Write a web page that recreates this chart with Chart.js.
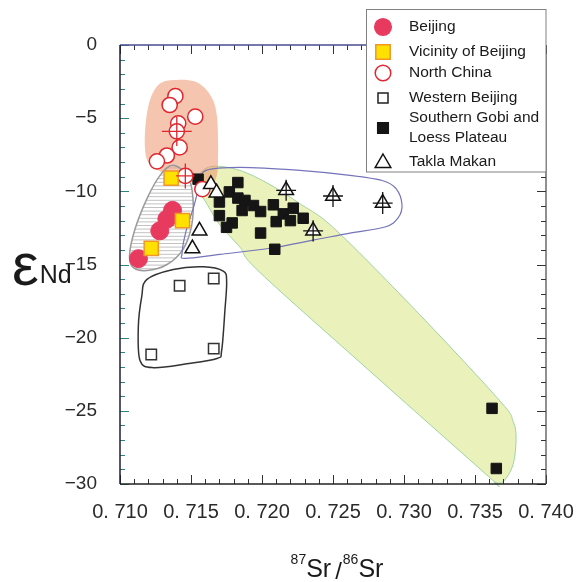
<!DOCTYPE html>
<html lang="en">
<head>
<meta charset="UTF-8" />
<title>87Sr/86Sr vs eNd</title>
<script src="https://cdn.jsdelivr.net/npm/chart.js"></script>
<style>
  html, body { margin: 0; padding: 0; background: #fff; }
  #srnd { display: block; }
</style>
</head>
<body>
<canvas id="srnd" width="577" height="582"></canvas>
<script>
// values
const beijingX = [0.7137, 0.7133, 0.7128, 0.7113];
const beijingY = [-11.3, -11.9, -12.7, -14.6];

const vicinityX = [0.7136, 0.7144, 0.7122];
const vicinityY = [-9.1, -12.0, -13.9];

const northChinaX = [0.7139, 0.7135, 0.7153, 0.7141, 0.7140, 0.7142, 0.7133, 0.7126, 0.7146, 0.7158];
const northChinaY = [-3.5, -4.1, -4.9, -5.35, -5.9, -7.0, -7.55, -7.95, -8.95, -9.85];
const northChinaErrX = [0, 0, 0, 0, 0.00105, 0, 0, 0, 0.00065, 0];
const northChinaErrY = [0, 0, 0, 0, 1.0, 0, 0, 0, 0.85, 0];

const westernX = [0.7142, 0.7166, 0.7122, 0.7166];
const westernY = [-16.45, -15.96, -21.15, -20.75];

const gobiX = [0.7155, 0.7183, 0.7177, 0.7170, 0.7183, 0.7188, 0.7186, 0.7194, 0.7199, 0.7208, 0.7170,
  0.7179, 0.7175, 0.7199, 0.7210, 0.7215, 0.7222, 0.7220, 0.7229, 0.7209, 0.7362, 0.7365];
const gobiY = [-9.17, -9.40, -10.04, -10.73, -10.46, -10.62, -11.31, -10.97, -11.38, -10.92, -11.66,
  -12.16, -12.46, -12.85, -12.07, -11.54, -11.15, -12.00, -11.84, -13.96, -24.83, -28.94];

const taklaX = [0.7164, 0.7168, 0.7156, 0.7151, 0.7217, 0.7250, 0.7285, 0.7236];
const taklaY = [-9.52, -10.09, -12.70, -13.91, -9.93, -10.32, -10.80, -12.70];
const taklaErrX = [0, 0, 0, 0, 0.0007, 0.0007, 0.0007, 0.0007];
const taklaErrY = [0, 0, 0, 0, 0.72, 0.75, 0.75, 0.72];

// field envelopes drawn round each group, [87Sr/86Sr, eNd]
const northChinaField = [[0.71373, -2.4], [0.71528, -2.5], [0.71634, -3.4], [0.71683, -4.9], [0.71690, -8.09],
  [0.71669, -9.26], [0.71606, -9.68], [0.71493, -9.33], [0.71317, -8.78], [0.71225, -8.29], [0.71183, -7.60],
  [0.71176, -6.01], [0.71204, -4.0], [0.71268, -2.75]];
const beijingField = [[0.71373, -8.22], [0.71479, -8.98], [0.71514, -10.50], [0.71504, -12.37], [0.71444, -13.96],
  [0.71331, -15.00], [0.71190, -15.41], [0.71092, -15.20], [0.71067, -14.37], [0.71106, -12.58], [0.71190, -10.50],
  [0.71282, -8.91]];
const gobiField = [[0.71563, -8.78], [0.71655, -8.29], [0.71845, -8.57], [0.72056, -9.54], [0.72268, -10.85],
  [0.72521, -12.65], [0.73113, -18.45], [0.73676, -24.33], [0.73768, -25.71], [0.73789, -26.88], [0.73768, -28.68],
  [0.73697, -29.85], [0.73634, -29.85], [0.73606, -29.58], [0.72796, -22.60], [0.71986, -15.55], [0.71845, -13.82],
  [0.71704, -12.30], [0.71620, -10.99], [0.71542, -9.61]];
const taklaField = [[0.71606, -8.57], [0.71845, -8.36], [0.72268, -8.57], [0.72620, -8.91], [0.72845, -9.26],
  [0.72944, -9.81], [0.72986, -10.92], [0.72958, -11.82], [0.72866, -12.44], [0.72620, -12.85], [0.72359, -13.34],
  [0.72056, -13.89], [0.71704, -14.31], [0.71458, -14.58], [0.71437, -14.24], [0.71465, -12.72], [0.71521, -10.99],
  [0.71563, -9.47]];
const westernField = [[0.71188, -16.03], [0.71375, -15.34], [0.71587, -15.16], [0.71727, -15.46], [0.71751, -16.17],
  [0.71739, -18.11], [0.71716, -20.87], [0.71683, -21.42], [0.71470, -21.79], [0.71235, -22.05], [0.71141, -21.56],
  [0.71129, -19.26], [0.71153, -17.19]];

const xTicks = [0.710, 0.715, 0.720, 0.725, 0.730, 0.735, 0.740];
const yTicks = [0, -5, -10, -15, -20, -25, -30];

const sans = "'Liberation Sans', Arial, sans-serif";

function pts(xs, ys) {
  return xs.map((x, i) => ({ x: x, y: ys[i] }));
}

// closed catmull-rom curve through the pixel points
function smoothLoop(ctx, p) {
  const n = p.length;
  ctx.beginPath();
  ctx.moveTo(p[0][0], p[0][1]);
  for (let i = 0; i < n; i++) {
    const a = p[(i - 1 + n) % n], b = p[i], c = p[(i + 1) % n], d = p[(i + 2) % n];
    ctx.bezierCurveTo(b[0] + (c[0] - a[0]) / 6, b[1] + (c[1] - a[1]) / 6,
      c[0] - (d[0] - b[0]) / 6, c[1] - (d[1] - b[1]) / 6, c[0], c[1]);
  }
  ctx.closePath();
}

function marker(ctx, style, x, y, r, fill, stroke, lw) {
  ctx.beginPath();
  if (style === 'circle') {
    ctx.arc(x, y, r, 0, Math.PI * 2);
  } else if (style === 'rect') {
    ctx.rect(x - r, y - r, 2 * r, 2 * r);
  } else {
    ctx.moveTo(x, y - r);
    ctx.lineTo(x + r * 0.866, y + r * 0.5);
    ctx.lineTo(x - r * 0.866, y + r * 0.5);
    ctx.closePath();
  }
  ctx.fillStyle = fill;
  ctx.fill();
  ctx.lineWidth = lw;
  ctx.strokeStyle = stroke;
  ctx.stroke();
}

const legendRows = [
  { lines: ['Beijing'], y: 27, my: 27, style: 'circle', r: 8.3, fill: '#e83a5f', stroke: '#e83a5f' },
  { lines: ['Vicinity of Beijing'], y: 52, my: 52, style: 'rect', r: 7.2, fill: '#ffe100', stroke: '#f0962a' },
  { lines: ['North China'], y: 73, my: 73, style: 'circle', r: 7.8, fill: '#fff', stroke: '#e0262e' },
  { lines: ['Western Beijing'], y: 98, my: 98, style: 'rect', r: 5, fill: '#fff', stroke: '#222' },
  { lines: ['Southern Gobi and', 'Loess Plateau'], y: 118, my: 128, style: 'rect', r: 5.3, fill: '#151515', stroke: '#151515' },
  { lines: ['Takla Makan'], y: 162, my: 163, style: 'triangle', r: 9, fill: '#fff', stroke: '#111' }
];

const decor = {
  id: 'decor',
  beforeDatasetsDraw(chart) {
    const ctx = chart.ctx;
    const xs = chart.scales.x, ys = chart.scales.y;
    const toPx = f => f.map(p => [xs.getPixelForValue(p[0]), ys.getPixelForValue(p[1])]);
    ctx.save();

    // Southern Gobi field
    smoothLoop(ctx, toPx(gobiField));
    ctx.fillStyle = 'rgba(214, 228, 118, 0.5)';
    ctx.fill();
    ctx.lineWidth = 1;
    ctx.strokeStyle = '#9fd3a3';
    ctx.stroke();

    // Beijing field, hatched
    const bj = toPx(beijingField);
    ctx.save();
    smoothLoop(ctx, bj);
    ctx.clip();
    ctx.strokeStyle = '#c2c2c2';
    ctx.lineWidth = 1;
    for (let y = chart.chartArea.top; y < chart.chartArea.bottom; y += 3.6) {
      ctx.beginPath();
      ctx.moveTo(chart.chartArea.left, y + 0.5);
      ctx.lineTo(chart.chartArea.right, y + 0.5);
      ctx.stroke();
    }
    ctx.restore();

    // North China field
    smoothLoop(ctx, toPx(northChinaField));
    ctx.fillStyle = 'rgba(236, 150, 110, 0.55)';
    ctx.fill();

    smoothLoop(ctx, bj);
    ctx.lineWidth = 1.5;
    ctx.strokeStyle = '#9a9a9a';
    ctx.stroke();

    smoothLoop(ctx, toPx(taklaField));
    ctx.lineWidth = 1.2;
    ctx.strokeStyle = '#7474bb';
    ctx.stroke();

    smoothLoop(ctx, toPx(westernField));
    ctx.lineWidth = 1.5;
    ctx.strokeStyle = '#333';
    ctx.stroke();

    ctx.restore();
  },
  afterDatasetsDraw(chart) {
    const ctx = chart.ctx;
    const xs = chart.scales.x, ys = chart.scales.y;
    ctx.save();
    chart.data.datasets.forEach(ds => {
      if (!ds.errX) return;
      ctx.strokeStyle = ds.errColor;
      ctx.lineWidth = 1.3;
      ds.data.forEach((d, j) => {
        if (!ds.errX[j]) return;
        const cx = xs.getPixelForValue(d.x), cy = ys.getPixelForValue(d.y);
        ctx.beginPath();
        ctx.moveTo(xs.getPixelForValue(d.x - ds.errX[j]), cy);
        ctx.lineTo(xs.getPixelForValue(d.x + ds.errX[j]), cy);
        ctx.moveTo(cx, ys.getPixelForValue(d.y + ds.errY[j]));
        ctx.lineTo(cx, ys.getPixelForValue(d.y - ds.errY[j]));
        ctx.stroke();
      });
    });
    ctx.restore();
  },
  afterDraw(chart) {
    const ctx = chart.ctx;
    const a = chart.chartArea;
    const xs = chart.scales.x, ys = chart.scales.y;
    ctx.save();

    // tick marks pointing inwards
    ctx.lineWidth = 1;
    for (let i = 0; i <= 30; i++) {
      const x = Math.round(xs.getPixelForValue(0.710 + i * 0.001)) + 0.5;
      const len = i % 5 === 0 ? 9 : 5;
      ctx.strokeStyle = '#333';
      ctx.beginPath();
      ctx.moveTo(x, a.bottom); ctx.lineTo(x, a.bottom - len);
      ctx.moveTo(x, a.top); ctx.lineTo(x, a.top + len);
      ctx.stroke();
    }
    for (let j = 0; j <= 30; j++) {
      const y = Math.round(ys.getPixelForValue(-j)) + 0.5;
      const len = j % 5 === 0 ? 9 : 5;
      ctx.strokeStyle = '#2f8577';
      ctx.beginPath();
      ctx.moveTo(a.left, y); ctx.lineTo(a.left + len, y);
      ctx.stroke();
      ctx.strokeStyle = '#333';
      ctx.beginPath();
      ctx.moveTo(a.right, y); ctx.lineTo(a.right - len, y);
      ctx.stroke();
    }

    // frame
    ctx.lineWidth = 1.5;
    ctx.strokeStyle = '#4b4b90';
    ctx.beginPath(); ctx.moveTo(a.left, a.top); ctx.lineTo(a.right, a.top); ctx.stroke();
    ctx.strokeStyle = '#1c1c3c';
    ctx.beginPath(); ctx.moveTo(a.left, a.top); ctx.lineTo(a.left, a.bottom); ctx.stroke();
    ctx.strokeStyle = '#222';
    ctx.beginPath(); ctx.moveTo(a.left, a.bottom); ctx.lineTo(a.right, a.bottom); ctx.stroke();
    ctx.strokeStyle = '#444';
    ctx.lineWidth = 1.2;
    ctx.beginPath(); ctx.moveTo(a.right, a.top); ctx.lineTo(a.right, a.bottom); ctx.stroke();

    // legend box
    ctx.fillStyle = '#fff';
    ctx.fillRect(366, 9, 180, 163);
    ctx.strokeStyle = '#808080';
    ctx.lineWidth = 1;
    ctx.strokeRect(366.5, 9.5, 179.5, 162.5);
    ctx.font = '15.5px ' + sans;
    ctx.textBaseline = 'middle';
    ctx.textAlign = 'left';
    legendRows.forEach(row => {
      marker(ctx, row.style, 383, row.my, row.r, row.fill, row.stroke, 1.5);
      ctx.fillStyle = '#1a1a1a';
      row.lines.forEach((t, k) => ctx.fillText(t, 409, row.y + k * 20));
    });

    // y title: epsilon Nd
    ctx.fillStyle = '#1a1a1a';
    ctx.textBaseline = 'alphabetic';
    ctx.font = '60px ' + sans;
    ctx.fillText('ε', 12, 285);
    const ew = ctx.measureText('ε').width;
    ctx.font = '25px ' + sans;
    ctx.fillText('Nd', 12 + ew + 1, 283);

    // x title: 87Sr/86Sr
    const parts = [
      { t: '87', size: 14, dy: -13, gap: 0 },
      { t: 'Sr', size: 25, dy: 0, gap: 0 },
      { t: '/', size: 24, dy: 2, gap: 4 },
      { t: '86', size: 14, dy: -13, gap: 1 },
      { t: 'Sr', size: 25, dy: 0, gap: 0 }
    ];
    let total = 0;
    parts.forEach(p => {
      ctx.font = p.size + 'px ' + sans;
      p.w = ctx.measureText(p.t).width;
      total += p.w + p.gap;
    });
    let x = (a.left + a.right) / 2 + 4 - total / 2;
    parts.forEach(p => {
      x += p.gap;
      ctx.font = p.size + 'px ' + sans;
      ctx.fillText(p.t, x, 577 + p.dy);
      x += p.w;
    });

    ctx.restore();
  }
};

new Chart(document.getElementById('srnd'), {
  type: 'scatter',
  data: {
    datasets: [
      {
        label: 'Vicinity of Beijing', data: pts(vicinityX, vicinityY), pointStyle: 'rect', pointRadius: 10,
        pointBackgroundColor: '#ffe100', pointBorderColor: '#f0962a', pointBorderWidth: 1.5
      },
      {
        label: 'Beijing', data: pts(beijingX, beijingY), pointStyle: 'circle', pointRadius: 9,
        pointBackgroundColor: '#e83a5f', pointBorderColor: '#e83a5f', pointBorderWidth: 1
      },
      {
        label: 'Takla Makan', data: pts(taklaX, taklaY), pointStyle: 'triangle', pointRadius: 8.5,
        pointBackgroundColor: '#fff', pointBorderColor: '#111', pointBorderWidth: 1.5,
        errX: taklaErrX, errY: taklaErrY, errColor: '#111'
      },
      {
        label: 'North China', data: pts(northChinaX, northChinaY), pointStyle: 'circle', pointRadius: 7.6,
        pointBackgroundColor: '#fff', pointBorderColor: '#e0262e', pointBorderWidth: 1.5,
        errX: northChinaErrX, errY: northChinaErrY, errColor: '#e0262e'
      },
      {
        label: 'Southern Gobi and Loess Plateau', data: pts(gobiX, gobiY), pointStyle: 'rect', pointRadius: 7.4,
        pointBackgroundColor: '#151515', pointBorderColor: '#151515', pointBorderWidth: 1
      },
      {
        label: 'Western Beijing', data: pts(westernX, westernY), pointStyle: 'rect', pointRadius: 7.4,
        pointBackgroundColor: '#fff', pointBorderColor: '#333', pointBorderWidth: 1.5
      }
    ]
  },
  options: {
    responsive: false,
    animation: false,
    events: [],
    layout: { padding: { top: 45, right: 31, left: 0, bottom: 0 } },
    plugins: { legend: { display: false }, tooltip: { enabled: false } },
    scales: {
      x: {
        type: 'linear', min: 0.710, max: 0.740,
        grid: { display: false, drawTicks: false },
        border: { display: false },
        afterBuildTicks: s => { s.ticks = xTicks.map(v => ({ value: v })); },
        afterFit: s => { s.height = 98; s.paddingLeft = 0; s.paddingRight = 0; },
        ticks: {
          padding: 16, maxRotation: 0, autoSkip: false, color: '#2a2a2a',
          font: { family: sans, size: 20 },
          callback: v => '0. ' + Number(v).toFixed(3).slice(2)
        }
      },
      y: {
        type: 'linear', min: -30, max: 0,
        grid: { display: false, drawTicks: false },
        border: { display: false },
        afterBuildTicks: s => { s.ticks = yTicks.map(v => ({ value: v })); },
        afterFit: s => { s.width = 120; s.paddingTop = 0; s.paddingBottom = 0; },
        ticks: {
          padding: 23, autoSkip: false, color: '#2a2a2a',
          font: { family: sans, size: 19 },
          callback: v => (v === 0 ? '0' : '\u2212' + Math.abs(v))
        }
      }
    }
  },
  plugins: [decor]
});
</script>
</body>
</html>
